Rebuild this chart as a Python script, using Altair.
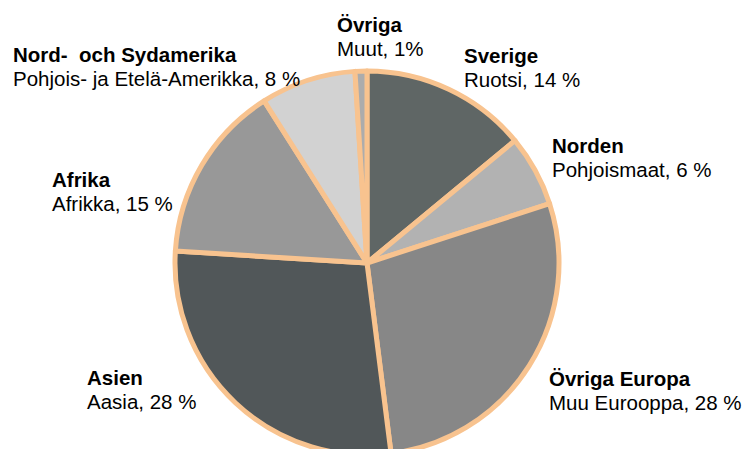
import altair as alt
import pandas as pd

# --- data ---
regions_sv = ["Sverige", "Norden", "Övriga Europa", "Asien", "Afrika",
              "Nord-\u00a0 och Sydamerika", "Övriga"]
regions_fi = ["Ruotsi, 14 %", "Pohjoismaat, 6 %", "Muu Eurooppa, 28 %",
              "Aasia, 28 %", "Afrikka, 15 %",
              "Pohjois- ja Etelä-Amerikka, 8 %", "Muut, 1%"]
shares = [14, 6, 28, 28, 15, 8, 1]
slice_colors = ["#5f6665", "#b2b2b2", "#878787", "#515759", "#989898",
                "#d2d2d2", "#acacac"]

# --- label layout (plot-area pixels: left x, baseline of bold line) ---
label_x = [456, 544, 541, 79, 44, 5, 329]
label_y = [55, 145, 378, 377, 179, 54, 24]

df = pd.DataFrame({
    "region": regions_sv,
    "fi": regions_fi,
    "share": shares,
    "order": list(range(len(shares))),
    "lx": label_x,
    "ly": label_y,
})
df["ly2"] = df["ly"] + 24

color_scale = alt.Scale(domain=regions_sv, range=slice_colors)

pie = alt.Chart(df).mark_arc(
    radius=192, stroke="#f8c38f", strokeWidth=5, strokeJoin="round"
).encode(
    theta=alt.Theta("share:Q", stack=True),
    order=alt.Order("order:Q"),
    color=alt.Color("region:N", scale=color_scale, legend=None),
    x=alt.value(359),
    y=alt.value(255),
)

bold = alt.Chart(df).mark_text(
    align="left", baseline="alphabetic", font="Liberation Sans",
    fontSize=20.5, fontWeight="bold", color="#000000"
).encode(
    x=alt.X("lx:Q", scale=None),
    y=alt.Y("ly:Q", scale=None),
    text="region:N",
)

regular = alt.Chart(df).mark_text(
    align="left", baseline="alphabetic", font="Liberation Sans",
    fontSize=20.5, color="#000000"
).encode(
    x=alt.X("lx:Q", scale=None),
    y=alt.Y("ly2:Q", scale=None),
    text="fi:N",
)

chart = alt.layer(pie, bold, regular).properties(
    width=735, height=441,
    autosize=alt.AutoSizeParams(type="fit", contains="padding"),
    padding=0,
).configure_view(stroke=None)

chart.save("out.html", embed_options={"renderer": "svg", "actions": False})
